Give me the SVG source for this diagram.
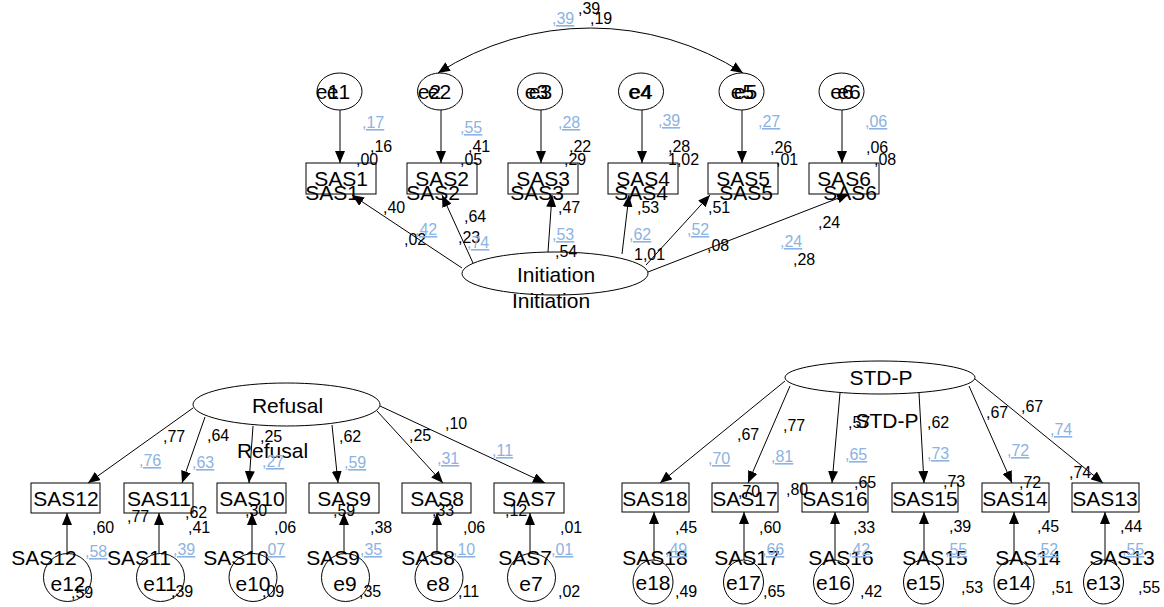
<svg xmlns="http://www.w3.org/2000/svg" width="1164" height="607" viewBox="0 0 1164 607">
<style>
.sh{fill:#fff;stroke:#000;stroke-width:1}
.bx{fill:#fff;stroke:#000;stroke-width:1}
.ln{fill:none;stroke:#000;stroke-width:1}
.t{font-family:"Liberation Sans",Arial,sans-serif;font-size:21px;fill:#000;text-anchor:middle}
.s{font-family:"Liberation Sans",Arial,sans-serif;font-size:16px;fill:#000}
.b{font-family:"Liberation Sans",Arial,sans-serif;font-size:16px;fill:#8db3e2;text-decoration:underline}
</style>
<defs>
<marker id="arr" viewBox="0 0 12 10" refX="12" refY="5" markerWidth="12" markerHeight="10" markerUnits="userSpaceOnUse" orient="auto-start-reverse">
<path d="M0,0 L12,5 L0,10 z" fill="#000"/>
</marker>
</defs>
<rect width="1164" height="607" fill="#fff"/>
<g id="connectors" class="ln" marker-end="url(#arr)">
<path d="M438,73 A281,281 0 0 1 743,73" marker-start="url(#arr)"/>
<line x1="340" y1="110" x2="340" y2="163"/>
<line x1="441" y1="110" x2="441" y2="163"/>
<line x1="541" y1="110" x2="541" y2="163"/>
<line x1="642" y1="110" x2="642" y2="163"/>
<line x1="742" y1="110" x2="742" y2="163"/>
<line x1="842" y1="110" x2="842" y2="163"/>
<line x1="462" y1="268" x2="352" y2="195"/>
<line x1="473" y1="263" x2="442" y2="195"/>
<line x1="548" y1="252" x2="552" y2="195"/>
<line x1="622" y1="254" x2="629" y2="195"/>
<line x1="646" y1="265" x2="710" y2="195"/>
<line x1="648" y1="272" x2="849" y2="194"/>
<line x1="193" y1="408" x2="88" y2="483"/>
<line x1="205" y1="417" x2="182" y2="483"/>
<line x1="253" y1="426" x2="249" y2="483"/>
<line x1="332" y1="425" x2="338" y2="483"/>
<line x1="377" y1="411" x2="443" y2="483"/>
<line x1="380" y1="406" x2="545" y2="483"/>
<line x1="785" y1="381" x2="660" y2="483"/>
<line x1="790" y1="386" x2="748" y2="483"/>
<line x1="840" y1="393" x2="832" y2="483"/>
<line x1="919" y1="393" x2="924" y2="483"/>
<line x1="969" y1="386" x2="1012" y2="483"/>
<line x1="975" y1="379" x2="1103" y2="483"/>
<line x1="67" y1="553" x2="67" y2="513"/>
<line x1="159" y1="553" x2="159" y2="513"/>
<line x1="252" y1="553" x2="252" y2="513"/>
<line x1="344" y1="553" x2="344" y2="513"/>
<line x1="437" y1="553" x2="437" y2="513"/>
<line x1="530" y1="553" x2="530" y2="513"/>
<line x1="654" y1="560" x2="654" y2="512"/>
<line x1="744" y1="560" x2="744" y2="512"/>
<line x1="835" y1="560" x2="835" y2="512"/>
<line x1="924" y1="560" x2="924" y2="512"/>
<line x1="1014" y1="560" x2="1014" y2="512"/>
<line x1="1105" y1="560" x2="1105" y2="512"/>
</g>
<g id="e1"><ellipse class="sh" cx="339.5" cy="91.5" rx="22.5" ry="18.5"/><text class="t" x="338.5" y="99">e1</text><text class="t" x="327.5" y="99">e1</text></g>
<g id="e2"><ellipse class="sh" cx="440" cy="91.5" rx="22.5" ry="18.5"/><text class="t" x="439.5" y="99">e2</text><text class="t" x="429.5" y="99">e2</text></g>
<g id="e3"><ellipse class="sh" cx="540" cy="91.5" rx="22.5" ry="18.5"/><text class="t" x="540.5" y="99">e3</text><text class="t" x="536.5" y="99">e3</text></g>
<g id="e4"><ellipse class="sh" cx="641" cy="91.5" rx="22.5" ry="18.5"/><text class="t" x="641" y="99">e4</text><text class="t" x="640" y="99">e4</text></g>
<g id="e5"><ellipse class="sh" cx="741.5" cy="91.5" rx="22.5" ry="18.5"/><text class="t" x="742.5" y="99">e5</text><text class="t" x="745.5" y="99">e5</text></g>
<g id="e6"><ellipse class="sh" cx="841.5" cy="91.5" rx="22.5" ry="18.5"/><text class="t" x="842" y="99">e6</text><text class="t" x="849" y="99">e6</text></g>
<g id="e12"><ellipse class="sh" cx="67.5" cy="577.5" rx="24" ry="24"/><text class="t" x="68" y="591">e12</text></g>
<g id="e11"><ellipse class="sh" cx="160.5" cy="577.5" rx="24" ry="24"/><text class="t" x="160" y="591">e11</text></g>
<g id="e10"><ellipse class="sh" cx="253" cy="577.5" rx="24" ry="24"/><text class="t" x="253" y="591">e10</text></g>
<g id="e9"><ellipse class="sh" cx="345.5" cy="577.5" rx="24" ry="24"/><text class="t" x="345" y="591">e9</text></g>
<g id="e8"><ellipse class="sh" cx="439" cy="577.5" rx="24" ry="24"/><text class="t" x="438" y="591">e8</text></g>
<g id="e7"><ellipse class="sh" cx="531.5" cy="577.5" rx="24" ry="24"/><text class="t" x="531" y="591">e7</text></g>
<g id="e18"><ellipse class="sh" cx="653" cy="582" rx="20" ry="22"/><text class="t" x="653" y="590">e18</text></g>
<g id="e17"><ellipse class="sh" cx="743.5" cy="582" rx="20" ry="22"/><text class="t" x="743.5" y="590">e17</text></g>
<g id="e16"><ellipse class="sh" cx="833.5" cy="582" rx="20" ry="22"/><text class="t" x="833.5" y="590">e16</text></g>
<g id="e15"><ellipse class="sh" cx="923.5" cy="582" rx="20" ry="22"/><text class="t" x="923.5" y="590">e15</text></g>
<g id="e14"><ellipse class="sh" cx="1014" cy="582" rx="20" ry="22"/><text class="t" x="1014" y="590">e14</text></g>
<g id="e13"><ellipse class="sh" cx="1103.5" cy="582" rx="20" ry="22"/><text class="t" x="1103.5" y="590">e13</text></g>
<g id="SAS1"><rect class="bx" x="306" y="163" width="70" height="31"/><text class="t" x="341" y="186">SAS1</text><text class="t" x="332" y="200">SAS1</text></g>
<g id="SAS2"><rect class="bx" x="407" y="163" width="70" height="31"/><text class="t" x="442" y="186">SAS2</text><text class="t" x="433" y="200">SAS2</text></g>
<g id="SAS3"><rect class="bx" x="508" y="163" width="70" height="31"/><text class="t" x="543" y="186">SAS3</text><text class="t" x="537" y="200">SAS3</text></g>
<g id="SAS4"><rect class="bx" x="608" y="163" width="70" height="31"/><text class="t" x="643" y="186">SAS4</text><text class="t" x="641" y="200">SAS4</text></g>
<g id="SAS5"><rect class="bx" x="708" y="163" width="70" height="31"/><text class="t" x="743" y="186">SAS5</text><text class="t" x="746" y="200">SAS5</text></g>
<g id="SAS6"><rect class="bx" x="809" y="163" width="70" height="31"/><text class="t" x="844" y="186">SAS6</text><text class="t" x="850" y="200">SAS6</text></g>
<g id="Initiation"><ellipse class="sh" cx="555" cy="273.5" rx="93" ry="21.5"/><text class="t" x="556" y="282">Initiation</text><text class="t" x="551" y="308">Initiation</text></g>
<g id="Refusal"><ellipse class="sh" cx="286.5" cy="404.5" rx="93.5" ry="21.5"/><text class="t" x="287.5" y="413">Refusal</text><text class="t" x="272.5" y="458">Refusal</text></g>
<g id="STD-P"><ellipse class="sh" cx="880" cy="377.5" rx="95" ry="16.5"/><text class="t" x="881" y="385">STD-P</text><text class="t" x="887" y="428">STD-P</text></g>
<g id="SAS12"><rect class="bx" x="31" y="483" width="69" height="30"/><text class="t" x="66" y="506">SAS12</text><text class="t" x="44" y="565">SAS12</text></g>
<g id="SAS11"><rect class="bx" x="124" y="483" width="69" height="30"/><text class="t" x="159" y="506">SAS11</text><text class="t" x="139" y="565">SAS11</text></g>
<g id="SAS10"><rect class="bx" x="217" y="483" width="69" height="30"/><text class="t" x="252" y="506">SAS10</text><text class="t" x="236" y="565">SAS10</text></g>
<g id="SAS9"><rect class="bx" x="309" y="483" width="70" height="30"/><text class="t" x="344" y="506">SAS9</text><text class="t" x="333" y="565">SAS9</text></g>
<g id="SAS8"><rect class="bx" x="402" y="483" width="69" height="30"/><text class="t" x="437" y="506">SAS8</text><text class="t" x="428" y="565">SAS8</text></g>
<g id="SAS7"><rect class="bx" x="494" y="483" width="70" height="30"/><text class="t" x="529" y="506">SAS7</text><text class="t" x="525" y="565">SAS7</text></g>
<g id="SAS18"><rect class="bx" x="622" y="483" width="67" height="29"/><text class="t" x="655" y="506">SAS18</text><text class="t" x="655" y="565">SAS18</text></g>
<g id="SAS17"><rect class="bx" x="712" y="483" width="66" height="29"/><text class="t" x="745" y="506">SAS17</text><text class="t" x="747" y="565">SAS17</text></g>
<g id="SAS16"><rect class="bx" x="802" y="483" width="66" height="29"/><text class="t" x="835" y="506">SAS16</text><text class="t" x="841" y="565">SAS16</text></g>
<g id="SAS15"><rect class="bx" x="892" y="483" width="66" height="29"/><text class="t" x="925" y="506">SAS15</text><text class="t" x="935" y="565">SAS15</text></g>
<g id="SAS14"><rect class="bx" x="982" y="483" width="67" height="29"/><text class="t" x="1015" y="506">SAS14</text><text class="t" x="1028" y="565">SAS14</text></g>
<g id="SAS13"><rect class="bx" x="1072" y="483" width="67" height="29"/><text class="t" x="1105" y="506">SAS13</text><text class="t" x="1122" y="565">SAS13</text></g>
<g id="labels">
<text class="s" x="578" y="14">,39</text><text class="s" x="590" y="24">,19</text>
<text class="s" x="370" y="152">,16</text><text class="s" x="356" y="165">,00</text>
<text class="s" x="468" y="152">,41</text><text class="s" x="460" y="165">,05</text>
<text class="s" x="569" y="152">,22</text><text class="s" x="564" y="165">,29</text>
<text class="s" x="668" y="152">,28</text><text class="s" x="668" y="165">1,02</text>
<text class="s" x="770" y="153">,26</text><text class="s" x="776" y="165">,01</text>
<text class="s" x="866" y="153">,06</text><text class="s" x="874" y="165">,08</text>
<text class="s" x="383" y="213">,40</text><text class="s" x="404" y="245">,02</text>
<text class="s" x="464" y="222">,64</text><text class="s" x="458" y="243">,23</text>
<text class="s" x="558" y="213">,47</text><text class="s" x="555" y="257">,54</text>
<text class="s" x="637" y="213">,53</text><text class="s" x="634" y="260">1,01</text>
<text class="s" x="708" y="213">,51</text><text class="s" x="707" y="251">,08</text>
<text class="s" x="818" y="228">,24</text><text class="s" x="793" y="265">,28</text>
<text class="b" x="552" y="24">,39</text>
<text class="b" x="362" y="128">,17</text><text class="b" x="460" y="133">,55</text><text class="b" x="558" y="128">,28</text>
<text class="b" x="658" y="126">,39</text><text class="b" x="758" y="127">,27</text><text class="b" x="865" y="127">,06</text>
<text class="b" x="415" y="235">,42</text><text class="b" x="467" y="248">,74</text><text class="b" x="552" y="240">,53</text>
<text class="b" x="629" y="240">,62</text><text class="b" x="687" y="235">,52</text><text class="b" x="780" y="247">,24</text>
<text class="s" x="163" y="442">,77</text><text class="s" x="207" y="441">,64</text><text class="s" x="260" y="442">,25</text>
<text class="s" x="339" y="442">,62</text><text class="s" x="409" y="441">,25</text><text class="s" x="445" y="429">,10</text>
<text class="s" x="92" y="533">,60</text><text class="s" x="71" y="598">,59</text>
<text class="s" x="127" y="522">,77</text><text class="s" x="185" y="518">,62</text><text class="s" x="188" y="533">,41</text><text class="s" x="171" y="597">,39</text>
<text class="s" x="245" y="516">,30</text><text class="s" x="274" y="533">,06</text><text class="s" x="262" y="597">,09</text>
<text class="s" x="333" y="516">,59</text><text class="s" x="370" y="533">,38</text><text class="s" x="359" y="597">,35</text>
<text class="s" x="432" y="516">,33</text><text class="s" x="463" y="533">,06</text><text class="s" x="458" y="597">,11</text>
<text class="s" x="505" y="516">,12</text><text class="s" x="560" y="533">,01</text><text class="s" x="558" y="597">,02</text>
<text class="b" x="139" y="466">,76</text><text class="b" x="192" y="468">,63</text><text class="b" x="262" y="467">,27</text>
<text class="b" x="344" y="468">,59</text><text class="b" x="437" y="464">,31</text><text class="b" x="492" y="456">,11</text>
<text class="b" x="85" y="557">,58</text><text class="b" x="173" y="555">,39</text><text class="b" x="263" y="555">,07</text>
<text class="b" x="360" y="555">,35</text><text class="b" x="453" y="555">,10</text><text class="b" x="551" y="555">,01</text>
<text class="s" x="737" y="440">,67</text><text class="s" x="783" y="431">,77</text><text class="s" x="848" y="428">,57</text>
<text class="s" x="927" y="428">,62</text><text class="s" x="986" y="418">,67</text><text class="s" x="1021" y="412">,67</text>
<text class="s" x="738" y="497">,70</text><text class="s" x="786" y="495">,80</text><text class="s" x="854" y="488">,65</text>
<text class="s" x="943" y="487">,73</text><text class="s" x="1019" y="488">,72</text><text class="s" x="1069" y="478">,74</text>
<text class="s" x="675" y="533">,45</text><text class="s" x="675" y="597">,49</text>
<text class="s" x="759" y="533">,60</text><text class="s" x="763" y="597">,65</text>
<text class="s" x="853" y="533">,33</text><text class="s" x="860" y="597">,42</text>
<text class="s" x="949" y="532">,39</text><text class="s" x="961" y="593">,53</text>
<text class="s" x="1037" y="532">,45</text><text class="s" x="1051" y="593">,51</text>
<text class="s" x="1120" y="532">,44</text><text class="s" x="1138" y="593">,55</text>
<text class="b" x="708" y="464">,70</text><text class="b" x="771" y="462">,81</text><text class="b" x="845" y="460">,65</text>
<text class="b" x="927" y="459">,73</text><text class="b" x="1007" y="456">,72</text><text class="b" x="1050" y="435">,74</text>
<text class="b" x="665" y="555">,49</text><text class="b" x="762" y="555">,66</text><text class="b" x="848" y="555">,42</text>
<text class="b" x="945" y="555">,55</text><text class="b" x="1036" y="555">,52</text><text class="b" x="1122" y="555">,55</text>
</g>
</svg>
